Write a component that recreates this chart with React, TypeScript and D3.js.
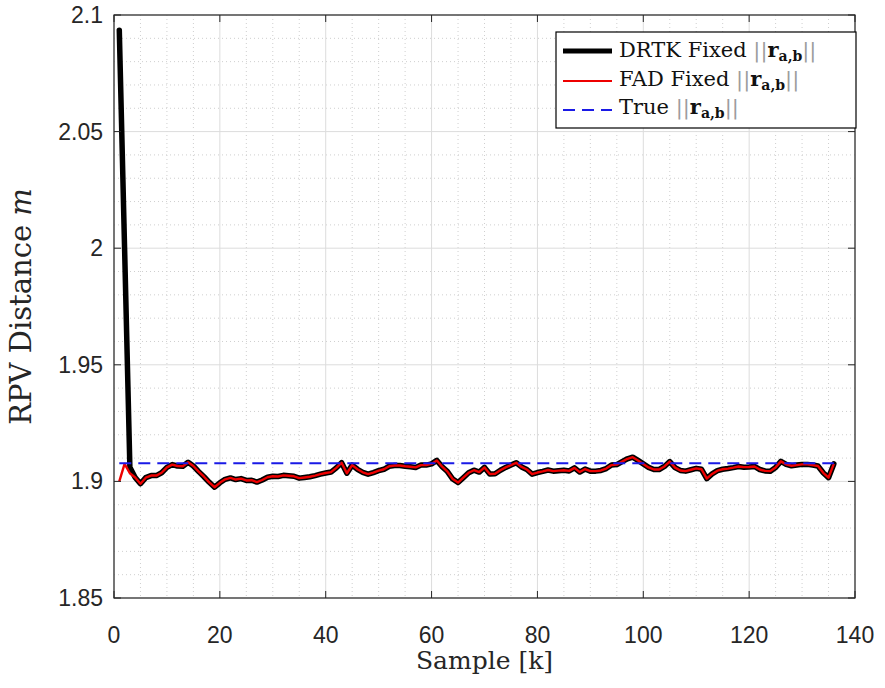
import React from 'react';
import * as d3 from 'd3';

// ---- data ----
const fadFixed: number[] = [
  1.9000, 1.9075, 1.9035, 1.9017, 1.8990, 1.9016, 1.9025, 1.9025, 1.9037, 1.9060,
  1.9072, 1.9066, 1.9065, 1.9082, 1.9066, 1.9042, 1.9020, 1.8996, 1.8975, 1.8994,
  1.9009, 1.9015, 1.9008, 1.9012, 1.9004, 1.9005, 1.8997, 1.9006, 1.9018, 1.9022,
  1.9021, 1.9026, 1.9024, 1.9022, 1.9014, 1.9017, 1.9020, 1.9025, 1.9031, 1.9036,
  1.9040, 1.9058, 1.9080, 1.9035, 1.9070, 1.9052, 1.9039, 1.9031, 1.9038, 1.9046,
  1.9052, 1.9065, 1.9068, 1.9068, 1.9065, 1.9063, 1.9060, 1.9070, 1.9070, 1.9075,
  1.9090, 1.9063, 1.9042, 1.9010, 1.8995, 1.9016, 1.9037, 1.9048, 1.9040, 1.9060,
  1.9032, 1.9033, 1.9048, 1.9060, 1.9070, 1.9080, 1.9062, 1.9051, 1.9031, 1.9038,
  1.9043, 1.9049, 1.9044, 1.9046, 1.9048, 1.9045, 1.9058, 1.9040, 1.9053, 1.9044,
  1.9044, 1.9047, 1.9055, 1.9070, 1.9072, 1.9085, 1.9097, 1.9104, 1.9090, 1.9075,
  1.9060, 1.9051, 1.9051, 1.9064, 1.9085, 1.9059, 1.9047, 1.9044, 1.9050, 1.9056,
  1.9052, 1.9012, 1.9032, 1.9046, 1.9052, 1.9055, 1.9059, 1.9064, 1.9061, 1.9062,
  1.9064, 1.9051, 1.9045, 1.9044, 1.9060, 1.9086, 1.9073, 1.9067, 1.9070, 1.9073,
  1.9073, 1.9070, 1.9066, 1.9037, 1.9016, 1.9075,
];
const drtkStart: number[] = [2.0935, 2.0000, 1.9060];
const drtkFixed: number[] = [...drtkStart, ...fadFixed.slice(drtkStart.length)];
const sampleIndex: number[] = fadFixed.map((_, i) => i + 1);
const trueDistance = 1.9078;

const xTicks: number[] = [0, 20, 40, 60, 80, 100, 120, 140];
const yTicks: number[] = [1.85, 1.9, 1.95, 2, 2.05, 2.1];
const yTickLabels: string[] = ['1.85', '1.9', '1.95', '2', '2.05', '2.1'];
const xMinorStep = 5;
const yMinorStep = 0.01;

const legendLabels: string[] = ['DRTK Fixed', 'FAD Fixed', 'True'];

// ---- layout ----
const W = 885;
const H = 688;
const L = 114, R = 855, T = 15, B = 598;

export default function App() {
  const x = d3.scaleLinear().domain([0, 140]).range([L, R]);
  const y = d3.scaleLinear().domain([1.85, 2.1]).range([B, T]);

  const line = d3.line<[number, number]>().x(d => x(d[0])).y(d => y(d[1]));
  const drtkPath = line(sampleIndex.map((s, i) => [s, drtkFixed[i]]))!;
  const fadPath = line(sampleIndex.map((s, i) => [s, fadFixed[i]]))!;
  const truePath = line([[sampleIndex[0], trueDistance], [sampleIndex[sampleIndex.length - 1], trueDistance]])!;

  const xMinor = d3.range(0, 140 + 1e-9, xMinorStep).filter(v => !xTicks.includes(v));
  const yMinor = d3.range(1.85, 2.1 + 1e-9, yMinorStep).filter(v => !yTicks.some(t => Math.abs(t - v) < 1e-6));

  const tickFont = '"Liberation Sans", Arial, Helvetica, sans-serif';
  const serif = '"DejaVu Serif", "Liberation Serif", serif';
  const axisColor = '#262626';
  const tickLen = 7;

  const legendColors = ['#000000', '#ee0000', '#1a1ae6'];
  const legendX = 556, legendY = 32, legendW = 300, legendH = 96;
  const rowLine = [51, 81, 110];
  const rowBase = [57, 86, 114];

  return (
    <svg width={W} height={H} style={{ position: 'absolute', left: 0, top: 0, background: '#fff' }}>
      <rect x={0} y={0} width={W} height={H} fill="#fff" />
      {/* minor grid */}
      {xMinor.map(v => (
        <line key={'xm' + v} x1={x(v)} x2={x(v)} y1={T} y2={B} stroke="#cfcfcf" strokeWidth={1} strokeDasharray="1 3" />
      ))}
      {yMinor.map(v => (
        <line key={'ym' + v} x1={L} x2={R} y1={y(v)} y2={y(v)} stroke="#cfcfcf" strokeWidth={1} strokeDasharray="1 3" />
      ))}
      {/* major grid */}
      {xTicks.map(v => (
        <line key={'xg' + v} x1={x(v)} x2={x(v)} y1={T} y2={B} stroke="#dcdcdc" strokeWidth={1} />
      ))}
      {yTicks.map(v => (
        <line key={'yg' + v} x1={L} x2={R} y1={y(v)} y2={y(v)} stroke="#dcdcdc" strokeWidth={1} />
      ))}

      {/* data */}
      <path d={drtkPath} fill="none" stroke="#000" strokeWidth={5.5} strokeLinejoin="round" strokeLinecap="round" />
      <path d={fadPath} fill="none" stroke="#ee0000" strokeWidth={2.4} strokeLinejoin="round" />
      <path d={truePath} fill="none" stroke="#1a1ae6" strokeWidth={2} strokeDasharray="12 7" />

      {/* ticks */}
      {xTicks.map(v => (
        <g key={'xt' + v}>
          <line x1={x(v)} x2={x(v)} y1={B} y2={B - tickLen} stroke={axisColor} strokeWidth={1} />
          <line x1={x(v)} x2={x(v)} y1={T} y2={T + tickLen} stroke={axisColor} strokeWidth={1} />
          <text x={x(v)} y={643} textAnchor="middle" fontFamily={tickFont} fontSize={23} fill={axisColor}>{v}</text>
        </g>
      ))}
      {yTicks.map((v, i) => (
        <g key={'yt' + v}>
          <line x1={L} x2={L + tickLen} y1={y(v)} y2={y(v)} stroke={axisColor} strokeWidth={1} />
          <line x1={R} x2={R - tickLen} y1={y(v)} y2={y(v)} stroke={axisColor} strokeWidth={1} />
          <text x={103} y={y(v) + 8} textAnchor="end" fontFamily={tickFont} fontSize={23} fill={axisColor}>{yTickLabels[i]}</text>
        </g>
      ))}

      {/* box */}
      <rect x={L} y={T} width={R - L} height={B - T} fill="none" stroke={axisColor} strokeWidth={1.2} />

      {/* axis labels */}
      <text x={(L + R) / 2} y={669} textAnchor="middle" fontFamily={serif} fontSize={25} fill={axisColor}>Sample [k]</text>
      <text transform={`translate(31, ${(T + B) / 2}) rotate(-90)`} textAnchor="middle" fontFamily={serif} fontSize={29} fill={axisColor}>
        RPV Distance <tspan fontStyle="italic">m</tspan>
      </text>

      {/* legend */}
      <rect x={legendX} y={legendY} width={legendW} height={legendH} fill="#fff" stroke="#000" strokeWidth={1.2} />
      {legendLabels.map((lab, i) => (
        <g key={'lg' + i}>
          <line x1={563} x2={612} y1={rowLine[i]} y2={rowLine[i]} stroke={legendColors[i]}
            strokeWidth={i === 0 ? 5 : 2} strokeDasharray={i === 2 ? '12 7' : undefined} />
          <text x={619} y={rowBase[i]} fontFamily={serif} fontSize={21} fill="#111">
            {lab + ' '}
            <tspan fill="#9c9c9c">||</tspan>
            <tspan fontWeight="bold">r</tspan>
            <tspan fontWeight="bold" fontSize={14} dy={4}>a,b</tspan>
            <tspan fill="#9c9c9c" dy={-4}>||</tspan>
          </text>
        </g>
      ))}
    </svg>
  );
}
